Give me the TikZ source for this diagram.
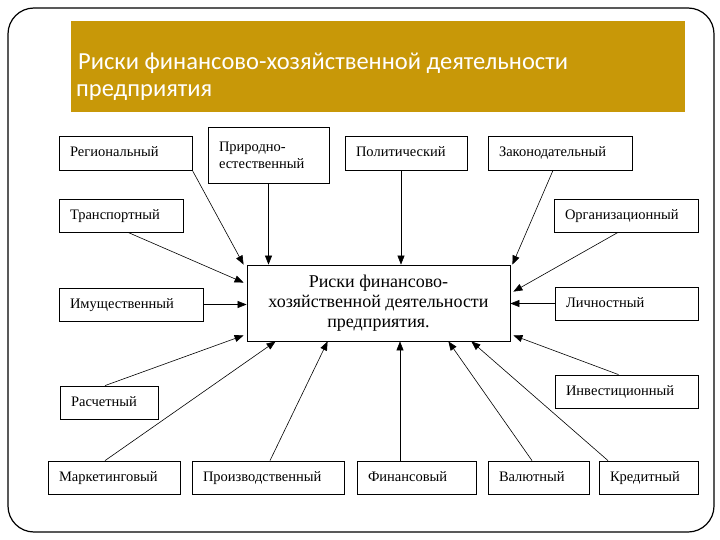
\documentclass[tikz,border=0pt]{standalone}
\usepackage{fontspec}
\setmainfont{Liberation Serif}
\newfontfamily\titlefont{Carlito}
\usetikzlibrary{arrows.meta,calc}
\definecolor{band}{RGB}{200,152,8}
\begin{document}
\begin{tikzpicture}[x=1pt,y=-1pt,
  box/.style={draw, line width=0.8pt, font=\fontsize{14.5}{17}\selectfont, inner xsep=11pt, inner ysep=0pt, minimum height=33pt, align=left, text height=10pt, text depth=3pt},
  arr/.style={line width=0.6pt, -{Triangle[length=9pt,width=7pt]}},
  ttl/.style={font=\titlefont\fontsize{24.5}{28}\selectfont, text=white, inner sep=0pt, anchor=base west}]
\useasboundingbox (0,0) rectangle (720,540);
\draw[line width=1.2pt, rounded corners=26pt] (8,8) rectangle (714,532);
\fill[band] (71,21) rectangle (685,112);
\node[ttl] (t1) at (78,70) {Риски финансово-хозяйственной деятельности};
\node[ttl] (t2) at (76,97) {предприятия};
% boxes
\node[box, text width=111pt, minimum height=34pt] (reg) at (125.5,153) {Региональный};
\node[box, text width=99pt, minimum height=56pt, text height={}, text depth={}] (prir) at (268.5,155) {Природно-\\естественный};
\node[box, text width=100pt, minimum height=34pt] (pol) at (406,153) {Политический};
\node[box, text width=122pt, minimum height=34pt] (zak) at (560,153) {Законодательный};
\node[box, text width=102pt] (trans) at (121,215.5) {Транспортный};
\node[box, text width=122pt] (org) at (626,215.5) {Организационный};
\node[box, text width=122pt] (imu) at (131,304.5) {Имущественный};
\node[box, text width=121pt] (lich) at (626.5,303.5) {Личностный};
\node[draw, line width=0.8pt, minimum width=263pt, minimum height=76pt, align=center, font=\fontsize{18}{20}\selectfont] (center) at (378.5,303) {Риски финансово-\\хозяйственной деятельности\\предприятия.};
\node[box, text width=76pt] (rasch) at (109,402.5) {Расчетный};
\node[box, text width=121pt] (inv) at (626.5,391.5) {Инвестиционный};
\node[box, text width=110pt] (mark) at (114,477.5) {Маркетинговый};
\node[box, text width=130pt] (proiz) at (268,477.5) {Производственный};
\node[box, text width=97pt] (fin) at (416.5,477.5) {Финансовый};
\node[box, text width=79pt] (val) at (538.5,477.5) {Валютный};
\node[box, text width=77pt] (kred) at (648.5,477.5) {Кредитный};
% connectors
\draw[arr] (reg.south east) -- ([xshift=-3pt]center.north west);
\draw[arr] (prir.south) -- (prir.south |- center.north);
\draw[arr] ([xshift=-5pt]pol.south) -- ([xshift=-5pt]pol.south |- center.north);
\draw[arr] ([xshift=-7pt]zak.south) -- ([xshift=2pt]center.north east);
\draw[arr] ([xshift=7pt]trans.south) -- ([xshift=-3pt,yshift=-18pt]center.north west);
\draw[arr] (imu.east) -- (imu.east -| center.west);
\draw[arr] ([xshift=-4pt]rasch.north) -- ([xshift=-3pt,yshift=6pt]center.south west);
\draw[arr] ([xshift=-8pt]org.south) -- ([xshift=3pt,yshift=-27pt]center.north east);
\draw[arr] (lich.west) -- (lich.west -| center.east);
\draw[arr] ([xshift=-8pt]inv.north) -- ([xshift=3pt,yshift=6pt]center.south east);
\draw[arr] ([xshift=-9pt]mark.north) -- ([xshift=29pt]center.south west);
\draw[arr] ([xshift=2pt]proiz.north) -- ([xshift=81pt]center.south west);
\draw[arr] ([xshift=-16.5pt]fin.north) -- ([xshift=-16.5pt]fin.north |- center.south);
\draw[arr] ([xshift=-6.5pt]val.north) -- ([xshift=-62pt]center.south east);
\draw[arr] ([xshift=-40.5pt]kred.north) -- ([xshift=-39pt]center.south east);
\end{tikzpicture}
\end{document}
